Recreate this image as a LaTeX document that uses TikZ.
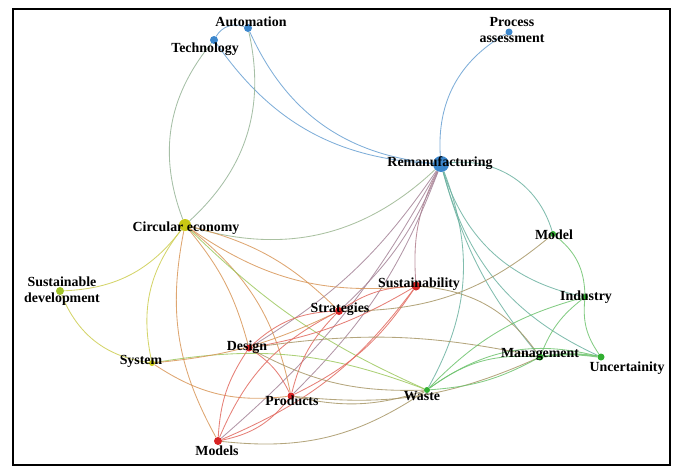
\documentclass[tikz,border=0pt]{standalone}
\usepackage{fontspec}
\setmainfont{Liberation Serif}
\usetikzlibrary{backgrounds}
\definecolor{cb}{RGB}{60,135,205}
\definecolor{lb}{RGB}{105,160,210}
\definecolor{cy}{RGB}{200,200,20}
\definecolor{ly}{RGB}{205,205,80}
\definecolor{cyg}{RGB}{160,195,40}
\definecolor{cr}{RGB}{215,35,35}
\definecolor{lr}{RGB}{225,105,95}
\definecolor{cg}{RGB}{50,175,50}
\definecolor{lg}{RGB}{110,195,110}
\tikzset{
  dot/.style={circle, fill=#1, inner sep=0pt, draw=none},
  lbl/.style={font=\fontsize{13.9}{16}\selectfont\bfseries, inner sep=0pt, text height=9pt, text depth=0pt},
  lbl2/.style={font=\fontsize{13.9}{16}\selectfont\bfseries, inner sep=0pt, align=center},
  edge/.style={line width=0.85pt, draw=#1, opacity=0.85},
}
\begin{document}
\begin{tikzpicture}[x=1pt,y=-1pt]
\useasboundingbox (0,0) rectangle (678,466);
% dots
\node[dot=cb, minimum size=8pt] (auto) at (248,28) {};
\node[dot=cb, minimum size=8pt] (tech) at (214,40) {};
\node[dot=cb, minimum size=7pt] (proc) at (509,32) {};
\node[dot=cb, minimum size=16pt] (reman) at (441,164) {};
\node[dot=cy, minimum size=12pt] (ce) at (185,225) {};
\node[dot=cg, minimum size=6pt] (model) at (553,234) {};
\node[dot=cyg, minimum size=8pt] (sd) at (60,291) {};
\node[dot=cr, minimum size=9pt] (sust) at (416,286) {};
\node[dot=cg, minimum size=6pt] (ind) at (585,297) {};
\node[dot=cr, minimum size=8pt] (strat) at (339,311) {};
\node[dot=cr, minimum size=7pt] (design) at (249,348) {};
\node[dot=cy, minimum size=6pt] (sys) at (152,363) {};
\node[dot=cg, minimum size=7pt] (mgmt) at (540,357) {};
\node[dot=cg, minimum size=7pt] (unc) at (601,357) {};
\node[dot=cg, minimum size=6pt] (waste) at (427,390) {};
\node[dot=cr, minimum size=7pt] (prod) at (291,396) {};
\node[dot=cr, minimum size=8pt] (models) at (218,441) {};
% labels
\node[lbl] (lauto) at (251,22) {Automation};
\node[lbl] (ltech) at (205,48) {Technology};
\node[lbl2] (lproc) at (512,30) {Process\\assessment};
\node[lbl] (lreman) at (440,162) {Remanufacturing};
\node[lbl] (lce) at (186,227) {Circular economy};
\node[lbl] (lmodel) at (554,235) {Model};
\node[lbl2] (lsd) at (62,291) {Sustainable\\development};
\node[lbl] (lsust) at (419,283) {Sustainability};
\node[lbl] (lind) at (586,296) {Industry};
\node[lbl] (lstrat) at (340,308) {Strategies};
\node[lbl] (ldesign) at (247,346) {Design};
\node[lbl] (lsys) at (141,360) {System};
\node[lbl] (lmgmt) at (540,353) {Management};
\node[lbl] (lunc) at (627,367) {Uncertainity};
\node[lbl] (lwaste) at (422,396) {Waste};
\node[lbl] (lprod) at (292,401) {Products};
\node[lbl] (lmodels) at (217,451) {Models};
% edges
\begin{scope}[on background layer]
% blue
\draw[edge=lb] (tech) to[bend left=40] (auto);
\draw[edge=lb] (tech) to[bend right=26] (reman);
\draw[edge=lb] (auto) to[bend right=30] (reman);
\draw[edge=lb] (proc) to[bend right=32] (reman);
\draw[edge=lb!55!ly] (auto) to[bend left=30] (ce);
\draw[edge=lb!55!ly] (tech) to[bend right=30] (ce);
\draw[edge=lb!50!ly] (ce) to[bend right=30] (reman);
\draw[edge=lb!50!lg] (reman) to[bend left=40] (model);
\draw[edge=lb!50!lg] (reman) to[bend right=30] (ind);
\draw[edge=lb!50!lg] (reman) to[bend right=25] (unc);
\draw[edge=lb!50!lg] (reman) to[bend right=12] (mgmt);
\draw[edge=lb!50!lg] (reman) to[bend left=25] (waste);
\draw[edge=lb!40!lr] (reman) to[bend right=15] (sust);
\draw[edge=lb!50!lr] (reman) to[bend left=12] (strat);
\draw[edge=lb!50!lr] (reman) to[bend left=12] (design);
\draw[edge=lb!50!lr] (reman) to[bend left=12] (prod);
\draw[edge=lb!50!lr] (reman) to[bend left=10] (models);
% yellow
\draw[edge=ly] (ce) to[bend left=25] (sd);
\draw[edge=ly] (sd) to[bend right=30] (sys);
\draw[edge=ly] (ce) to[bend right=25] (sys);
\draw[edge=ly!45!lr] (ce) to[bend right=20] (models);
\draw[edge=ly!45!lr] (ce) to[bend left=12] (design);
\draw[edge=ly!45!lr] (ce) to[bend left=20] (prod);
\draw[edge=ly!45!lr] (ce) to[bend left=15] (strat);
\draw[edge=ly!45!lr] (ce) to[bend right=20] (sust);
\draw[edge=ly!50!lg] (ce) to[bend right=10] (waste);
\draw[edge=ly!50!lg] (sys) to[bend left=15] (waste);
\draw[edge=ly!45!lr] (sys) to[bend right=20] (prod);
\draw[edge=ly!45!lr] (sys) to[bend right=10] (strat);
% red
\draw[edge=lr] (strat) to[bend right=20] (design);
\draw[edge=lr] (strat) to[bend right=15] (prod);
\draw[edge=lr] (strat) to[bend right=20] (models);
\draw[edge=lr] (strat) to[bend left=15] (sust);
\draw[edge=lr] (design) to[bend left=15] (prod);
\draw[edge=lr] (design) to[bend right=15] (models);
\draw[edge=lr] (prod) to[bend left=20] (models);
\draw[edge=lr] (sust) to[bend left=10] (design);
\draw[edge=lr] (sust) to[bend left=15] (prod);
\draw[edge=lr] (sust) to[bend left=15] (models);
\draw[edge=lr!50!lg] (design) to[bend right=15] (waste);
\draw[edge=lr!50!lg] (prod) to[bend right=15] (waste);
\draw[edge=lr!50!lg] (models) to[bend right=20] (waste);
\draw[edge=lr!50!lg] (prod) to[bend right=15] (mgmt);
\draw[edge=lr!50!lg] (design) to[bend left=10] (mgmt);
\draw[edge=lr!50!lg] (sust) to[bend left=25] (mgmt);
\draw[edge=lr!50!lg] (strat) to[bend right=20] (model);
% green
\draw[edge=lg] (model) to[bend left=25] (ind);
\draw[edge=lg] (ind) to[bend right=20] (unc);
\draw[edge=lg] (ind) to[bend right=15] (mgmt);
\draw[edge=lg] (ind) to[bend right=15] (waste);
\draw[edge=lg, line width=2pt] (mgmt) to[bend left=8] (unc);
\draw[edge=lg] (waste) to[bend left=20] (mgmt);
\draw[edge=lg] (waste) to[bend right=12] (mgmt);
\draw[edge=lg] (waste) to[bend left=25] (unc);
\end{scope}
\draw[line width=1.5pt] (13,9) rectangle (670,465);
\end{tikzpicture}
\end{document}
